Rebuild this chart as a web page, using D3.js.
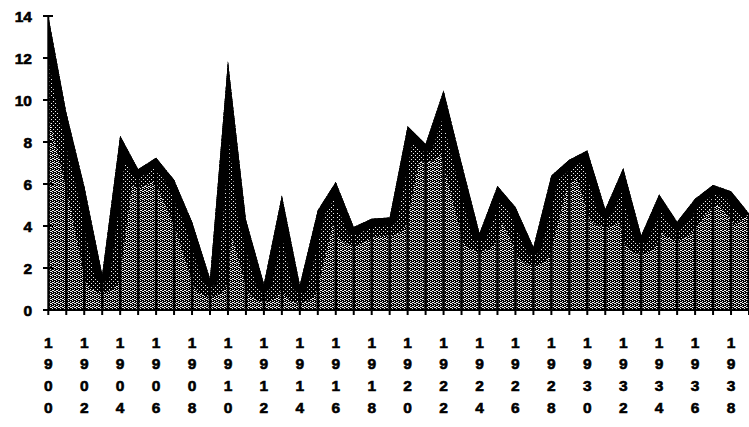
<!DOCTYPE html>
<html><head><meta charset="utf-8">
<script src="https://cdn.jsdelivr.net/npm/d3@7/dist/d3.min.js"></script>
<style>html,body{margin:0;padding:0;background:#fff;overflow:hidden}</style>
</head><body><svg id="c" width="749" height="427"></svg>
<script>
const years = d3.range(1900, 1940);
const values = [14.0, 9.4, 5.9, 1.7, 8.3, 6.7, 7.25, 6.2, 4.2, 1.5,
  11.85, 4.3, 1.25, 5.45, 1.2, 4.75, 6.1, 3.95, 4.35, 4.4,
  8.75, 7.9, 10.45, 7.0, 3.65, 5.9, 4.9, 3.0, 6.4, 7.15,
  7.6, 4.8, 6.75, 3.55, 5.5, 4.2, 5.3, 5.95, 5.65, 4.6];
const yTicks = [0, 2, 4, 6, 8, 10, 12, 14];
const xLabelYears = d3.range(1900, 1940, 2);

const data = years.map((yr, i) => ({yr, v: values[i]}));
const svg = d3.select('#c');
const x = d3.scaleLinear().domain([1900, 1939]).range([48.3, 749]);
const y = d3.scaleLinear().domain([0, 14]).range([310, 16]);
const font = '"Liberation Sans", Arial, sans-serif';

const defs = svg.append('defs');
function makePattern(id, whites) {
  const p = defs.append('pattern').attr('id', id).attr('patternUnits', 'userSpaceOnUse')
    .attr('width', 4).attr('height', 4);
  p.append('rect').attr('width', 4).attr('height', 4).attr('fill', '#000');
  whites.forEach(([a,b]) => p.append('rect').attr('x', a).attr('y', b)
    .attr('width', 1).attr('height', 1).attr('fill', '#f0f0f0'));
}
makePattern('dither', [[0,0],[2,1],[1,2],[3,3],[2,3],[0,2]]);
makePattern('dark', [[1,1],[3,3]]);

const area = d3.area().x(d => x(d.yr)).y0(y(0)).y1(d => y(d.v));
const line = d3.line().x(d => x(d.yr)).y(d => y(d.v));

defs.append('clipPath').attr('id', 'ac').append('path').attr('d', area(data));

svg.append('path').attr('d', area(data)).attr('fill', 'url(#dither)');
const g = svg.append('g').attr('clip-path', 'url(#ac)');
g.append('path').attr('d', line(data)).attr('fill', 'none').attr('stroke', 'url(#dark)')
  .attr('stroke-width', 36).attr('stroke-linejoin', 'round');
g.append('path').attr('d', line(data)).attr('fill', 'none').attr('stroke', '#000')
  .attr('stroke-width', 16).attr('stroke-linejoin', 'round');
g.selectAll('line.v').data(data).join('line')
  .attr('x1', d => x(d.yr)).attr('x2', d => x(d.yr))
  .attr('y1', y(0)).attr('y2', d => y(d.v))
  .attr('stroke', '#000').attr('stroke-width', 2.5);

// y axis
svg.append('line').attr('x1', x(1900)).attr('x2', x(1900)).attr('y1', y(14)).attr('y2', y(0))
  .attr('stroke', '#000').attr('stroke-width', 2);
svg.selectAll('line.yt').data(yTicks).join('line')
  .attr('x1', 43).attr('x2', 53).attr('y1', d => y(d)).attr('y2', d => y(d))
  .attr('stroke', '#000').attr('stroke-width', 2);
svg.selectAll('text.yl').data(yTicks).join('text')
  .attr('x', 32).attr('y', d => y(d) + 5.5).attr('text-anchor', 'end')
  .attr('font-family', font).attr('font-weight', 'bold').attr('font-size', 15.5)
  .attr('stroke', '#000').attr('stroke-width', 0.6)
  .text(d => d);

// x axis
svg.append('line').attr('x1', x(1900)).attr('x2', x(1939)).attr('y1', y(0)).attr('y2', y(0))
  .attr('stroke', '#000').attr('stroke-width', 2);
svg.selectAll('line.xt').data(years).join('line')
  .attr('x1', d => x(d)).attr('x2', d => x(d)).attr('y1', y(0)).attr('y2', y(0) + 5)
  .attr('stroke', '#000').attr('stroke-width', 2);
const xl = svg.selectAll('g.xl').data(xLabelYears).join('g');
xl.each(function(yr) {
  const s = String(yr).split('');
  d3.select(this).selectAll('text').data(s).join('text')
    .attr('x', x(yr)).attr('y', (d, i) => 347.5 + i * 21.7).attr('text-anchor', 'middle')
    .attr('font-family', font).attr('font-weight', 'bold').attr('font-size', 15.5)
    .attr('stroke', '#000').attr('stroke-width', 0.6)
    .text(d => d);
});
</script></body></html>
